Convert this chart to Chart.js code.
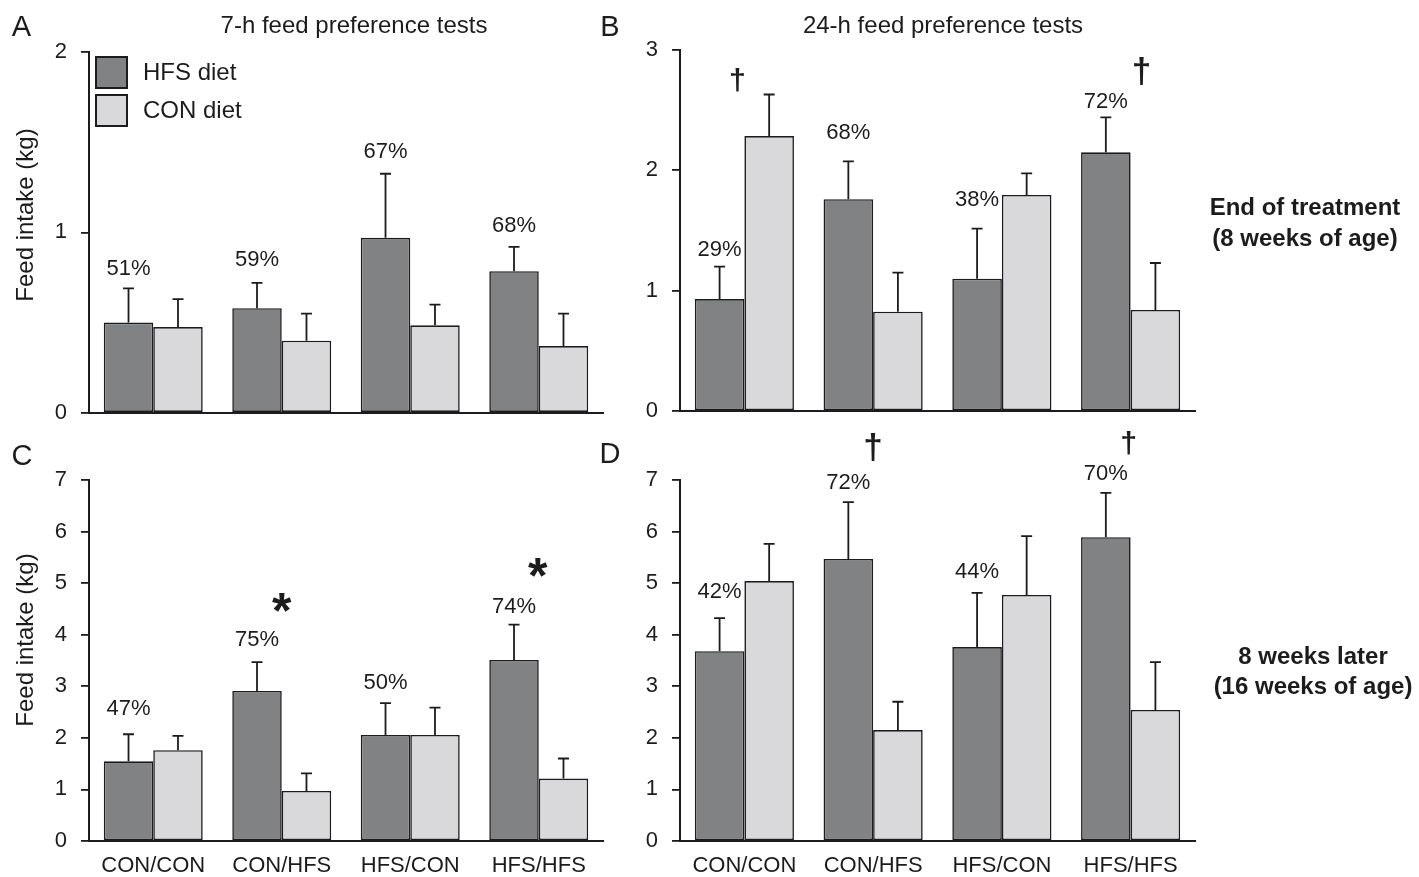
<!DOCTYPE html>
<html>
<head>
<meta charset="utf-8">
<title>Feed preference tests</title>
<script src="https://cdn.jsdelivr.net/npm/chart.js@4.4.1/dist/chart.umd.min.js"></script>
<style>
  html, body { margin: 0; padding: 0; background: #ffffff; }
  body { position: relative; width: 1419px; height: 877px; overflow: hidden; }
  canvas { position: absolute; }
</style>
</head>
<body>
<canvas id="panelA" width="640" height="440" style="left:0px;top:0px;width:640px;height:440px"></canvas>
<canvas id="panelB" width="819" height="440" style="left:600px;top:0px;width:819px;height:440px"></canvas>
<canvas id="panelC" width="640" height="452" style="left:0px;top:425px;width:640px;height:452px"></canvas>
<canvas id="panelD" width="819" height="452" style="left:600px;top:425px;width:819px;height:452px"></canvas>
<script>
// Treatment groups (diet before / after weaning period)
const groups = ['CON/CON', 'CON/HFS', 'HFS/CON', 'HFS/HFS'];

// A: 7-h test, end of treatment (kg, mean and SE)
const hfs7hEnd   = [0.50, 0.58, 0.97, 0.785];
const hfs7hEndSe = [0.19, 0.14, 0.355, 0.135];
const con7hEnd   = [0.475, 0.40, 0.485, 0.37];
const con7hEndSe = [0.155, 0.15, 0.115, 0.18];
const share7hEnd = ['51%', '59%', '67%', '68%'];

// B: 24-h test, end of treatment
const hfs24hEnd   = [0.93, 1.76, 1.10, 2.15];
const hfs24hEndSe = [0.27, 0.315, 0.415, 0.29];
const con24hEnd   = [2.285, 0.825, 1.795, 0.84];
const con24hEndSe = [0.345, 0.325, 0.18, 0.39];
const share24hEnd = ['29%', '68%', '38%', '72%'];

// C: 7-h test, 8 weeks later
const hfs7hLate   = [1.545, 2.91, 2.055, 3.51];
const hfs7hLateSe = [0.525, 0.56, 0.62, 0.685];
const con7hLate   = [1.76, 0.97, 2.055, 1.21];
const con7hLateSe = [0.28, 0.34, 0.53, 0.39];
const share7hLate = ['47%', '75%', '50%', '74%'];

// D: 24-h test, 8 weeks later
const hfs24hLate   = [3.68, 5.47, 3.76, 5.89];
const hfs24hLateSe = [0.64, 1.10, 1.05, 0.86];
const con24hLate   = [5.04, 2.15, 4.77, 2.54];
const con24hLateSe = [0.72, 0.55, 1.14, 0.93];
const share24hLate = ['42%', '72%', '44%', '70%'];

// Y-axis tick values
const ticks7hEnd  = [0, 1, 2];
const ticks24hEnd = [0, 1, 2, 3];
const ticksLate   = [0, 1, 2, 3, 4, 5, 6, 7];

const FONT = '"Liberation Sans", Arial, Helvetica, sans-serif';
const INK = '#1c1c1c';
const HFS_FILL = '#818284';
const CON_FILL = '#d9d9db';

// Draws error bars, share labels, significance marks, legend and panel text
const panelDecor = {
  id: 'panelDecor',
  afterDraw(chart, args, o) {
    const ctx = chart.ctx;
    const xs = chart.scales.x, ys = chart.scales.y;
    ctx.save();

    // upward SE bars with caps
    ctx.strokeStyle = INK;
    ctx.lineWidth = 1.8;
    chart.data.datasets.forEach((ds, di) => {
      chart.getDatasetMeta(di).data.forEach((bar, i) => {
        const top = ys.getPixelForValue(ds.data[i] + ds.errors[i]);
        ctx.beginPath();
        ctx.moveTo(bar.x, bar.y);
        ctx.lineTo(bar.x, top);
        ctx.moveTo(bar.x - 5.5, top);
        ctx.lineTo(bar.x + 5.5, top);
        ctx.stroke();
      });
    });

    // share of HFS diet in total intake, above the HFS bars
    const hfs = chart.data.datasets[0];
    const hfsMeta = chart.getDatasetMeta(0);
    ctx.fillStyle = INK;
    ctx.font = '22px ' + FONT;
    ctx.textAlign = 'center';
    ctx.textBaseline = 'middle';
    o.shares.forEach((txt, i) => {
      const top = ys.getPixelForValue(hfs.data[i] + hfs.errors[i]);
      ctx.fillText(txt, hfsMeta.data[i].x, top - o.shareLift[i]);
    });

    // significance marks, ink centred on the target point
    ctx.textBaseline = 'alphabetic';
    ctx.textAlign = 'center';
    o.marks.forEach(m => {
      ctx.font = 'bold 40px ' + FONT;
      const probe = ctx.measureText(m.glyph);
      const inkH = probe.actualBoundingBoxAscent + probe.actualBoundingBoxDescent;
      const size = 40 * m.height / inkH;
      ctx.font = 'bold ' + size + 'px ' + FONT;
      const mm = ctx.measureText(m.glyph);
      const cx = xs.getPixelForValue(m.group) + m.dx;
      const cy = ys.getPixelForValue(m.at);
      ctx.fillText(m.glyph, cx, cy + (mm.actualBoundingBoxAscent - mm.actualBoundingBoxDescent) / 2);
    });

    // legend boxes in the top-left corner of the plot
    if (o.legend) {
      const L = chart.chartArea.left + 7;
      const T = chart.chartArea.top + 5;
      chart.data.datasets.forEach((ds, i) => {
        const top = T + i * 38;
        ctx.fillStyle = ds.backgroundColor;
        ctx.fillRect(L, top, 31, 31);
        ctx.strokeStyle = INK;
        ctx.lineWidth = 2;
        ctx.strokeRect(L, top, 31, 31);
        ctx.fillStyle = INK;
        ctx.font = '24px ' + FONT;
        ctx.textAlign = 'left';
        ctx.textBaseline = 'middle';
        ctx.fillText(ds.label, L + 47, top + 16);
      });
    }

    // panel letters, titles and side notes
    o.texts.forEach(t => {
      ctx.save();
      ctx.fillStyle = INK;
      ctx.font = t.font + ' ' + FONT;
      ctx.textAlign = 'center';
      ctx.textBaseline = 'alphabetic';
      ctx.translate(t.x, t.y);
      if (t.rotate) ctx.rotate(t.rotate);
      ctx.fillText(t.text, 0, 0);
      ctx.restore();
    });

    ctx.restore();
  }
};

function makePanel(id, p) {
  return new Chart(document.getElementById(id), {
    type: 'bar',
    data: {
      labels: groups,
      datasets: [
        { label: 'HFS diet', data: p.hfs, errors: p.hfsSe, backgroundColor: HFS_FILL,
          borderColor: INK, borderWidth: 1.6, borderSkipped: false },
        { label: 'CON diet', data: p.con, errors: p.conSe, backgroundColor: CON_FILL,
          borderColor: INK, borderWidth: 1.6, borderSkipped: false }
      ]
    },
    options: {
      responsive: false,
      animation: false,
      devicePixelRatio: 1,
      categoryPercentage: 0.77,
      barPercentage: 1.0,
      layout: { padding: p.padding },
      plugins: {
        legend: { display: false },
        tooltip: { enabled: false },
        title: { display: false },
        panelDecor: {
          shares: p.shares, shareLift: p.shareLift, marks: p.marks,
          legend: p.legend, texts: p.texts
        }
      },
      scales: {
        x: {
          grid: { display: true, drawOnChartArea: false, drawTicks: false },
          border: { display: true, color: INK, width: 2 },
          ticks: { display: p.showGroups, color: INK, padding: 12, font: { family: FONT, size: 22 } },
          afterFit(s) { s.height = p.xHeight; }
        },
        y: {
          min: 0,
          max: p.ticks[p.ticks.length - 1],
          afterBuildTicks(s) { s.ticks = p.ticks.map(v => ({ value: v })); },
          ticks: { color: INK, padding: 14, font: { family: FONT, size: 22 } },
          grid: { drawOnChartArea: false, drawTicks: true, tickLength: 8, color: INK, lineWidth: 1.8 },
          border: { display: true, color: INK, width: 2 },
          afterFit(s) { s.width = p.yWidth; }
        }
      }
    },
    plugins: [panelDecor]
  });
}

makePanel('panelA', {
  hfs: hfs7hEnd, hfsSe: hfs7hEndSe, con: con7hEnd, conSe: con7hEndSe,
  shares: share7hEnd, shareLift: [19, 23, 22, 21], ticks: ticks7hEnd,
  marks: [], legend: true, showGroups: false,
  padding: { left: 0, top: 52, right: 37, bottom: 0 }, yWidth: 89, xHeight: 26,
  texts: [
    { text: 'A', x: 21.5, y: 36, font: '29px' },
    { text: '7-h feed preference tests', x: 354, y: 33, font: '24px' },
    { text: 'Feed intake (kg)', x: 33, y: 215, font: '24px', rotate: -Math.PI / 2 }
  ]
});

makePanel('panelB', {
  hfs: hfs24hEnd, hfsSe: hfs24hEndSe, con: con24hEnd, conSe: con24hEndSe,
  shares: share24hEnd, shareLift: [17, 28, 29, 15], ticks: ticks24hEnd,
  marks: [
    { glyph: '\u2020', group: 0, dx: -7, at: 2.75, height: 25 },
    { glyph: '\u2020', group: 3, dx: 11, at: 2.825, height: 29 }
  ],
  legend: false, showGroups: false,
  padding: { left: 0, top: 50, right: 224, bottom: 0 }, yWidth: 80, xHeight: 29,
  texts: [
    { text: 'B', x: 10, y: 36, font: '29px' },
    { text: '24-h feed preference tests', x: 343, y: 33, font: '24px' },
    { text: 'End of treatment', x: 705, y: 215, font: 'bold 24px' },
    { text: '(8 weeks of age)', x: 705, y: 246, font: 'bold 24px' }
  ]
});

makePanel('panelC', {
  hfs: hfs7hLate, hfsSe: hfs7hLateSe, con: con7hLate, conSe: con7hLateSe,
  shares: share7hLate, shareLift: [25, 22, 20, 18], ticks: ticksLate,
  marks: [
    { glyph: '*', group: 1, dx: 0, at: 4.63, height: 20 },
    { glyph: '*', group: 3, dx: -1, at: 5.31, height: 20 }
  ],
  legend: false, showGroups: true,
  padding: { left: 0, top: 55, right: 37, bottom: 0 }, yWidth: 89, xHeight: 36,
  texts: [
    { text: 'C', x: 22, y: 40, font: '29px' },
    { text: 'Feed intake (kg)', x: 33, y: 215, font: '24px', rotate: -Math.PI / 2 }
  ]
});

makePanel('panelD', {
  hfs: hfs24hLate, hfsSe: hfs24hLateSe, con: con24hLate, conSe: con24hLateSe,
  shares: share24hLate, shareLift: [26, 19, 21, 19], ticks: ticksLate,
  marks: [
    { glyph: '\u2020', group: 1, dx: 0, at: 7.64, height: 29 },
    { glyph: '\u2020', group: 3, dx: -2, at: 7.72, height: 25 }
  ],
  legend: false, showGroups: true,
  padding: { left: 0, top: 55, right: 224, bottom: 0 }, yWidth: 80, xHeight: 36,
  texts: [
    { text: 'D', x: 10, y: 38, font: '29px' },
    { text: '8 weeks later', x: 713, y: 239, font: 'bold 24px' },
    { text: '(16 weeks of age)', x: 713, y: 269, font: 'bold 24px' }
  ]
});
</script>
</body>
</html>
